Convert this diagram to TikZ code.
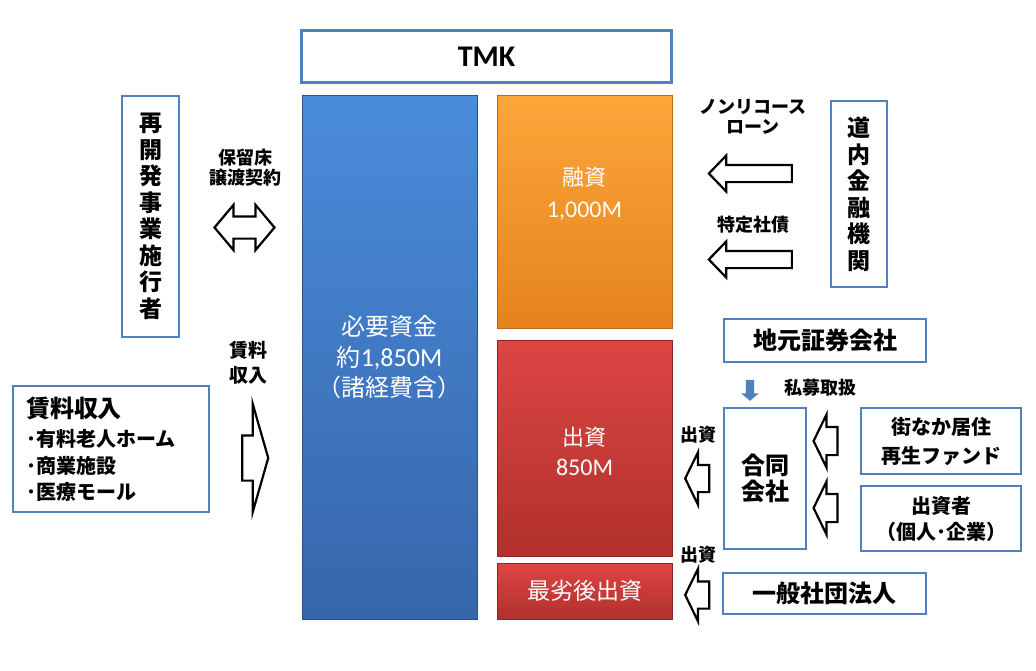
\documentclass[tikz,border=0pt]{standalone}
\usepackage{fontspec}
\setmainfont{Noto Sans CJK JP}
\newfontfamily\lat{Carlito}
\usetikzlibrary{shapes.arrows}
\definecolor{boxblue}{HTML}{4F81BD}
\definecolor{colblueT}{HTML}{4A8CDB}
\definecolor{colblueB}{HTML}{3666AA}
\definecolor{colorangeT}{HTML}{FDA63A}
\definecolor{colorangeB}{HTML}{E5831C}
\definecolor{colredT}{HTML}{DC4643}
\definecolor{colredB}{HTML}{B1302D}
\tikzset{
  bluebox/.style={draw=boxblue, line width=2.6pt, fill=white, inner sep=0pt, align=center},
  column/.style={inner sep=0pt, align=center, text=white, draw=#1B!80!black, line width=0.6pt,
     top color=#1T, bottom color=#1B},
  barrow/.style={single arrow, draw=black, line width=2.2pt, fill=white, inner xsep=0pt,
     single arrow head indent=0pt},
  lbl/.style={inner sep=0pt, align=center, font=\fontsize{18}{20}\selectfont\bfseries},
  vtext/.style={font=\fontsize{23}{26.5}\selectfont\bfseries},
  wtext/.style={font=\fontsize{24}{30.5}\selectfont},
}
\begin{document}
\begin{tikzpicture}[x=1pt,y=-1pt]
\useasboundingbox[fill=white] (0,0) rectangle (1036,670);

% TMK
\node[bluebox, minimum width=370pt, minimum height=52pt, font=\lat\fontsize{30}{32}\selectfont\bfseries] (tmk) at (486.5,56.5) {TMK};

% columns
\node[column=colblue, minimum width=175pt, minimum height=524pt] (need) at (389.5,357) {};
\node[wtext, text=white, align=center, inner sep=0pt] (needtxt) at (389.5,357.5)
  {必要資金\\約{\lat\fontsize{26}{30}\selectfont 1,850M}\\（諸経費含）};
\node[column=colorange, minimum width=175pt, minimum height=233pt] (loan) at (584.5,211.5) {};
\node[text=white, align=center, inner sep=0pt, font=\fontsize{22}{32}\selectfont] (loantxt) at (584.5,194)
  {融資\\{\lat\fontsize{24}{32}\selectfont 1,000M}};
\node[column=colred, minimum width=175pt, minimum height=216pt] (equity) at (584.5,448) {};
\node[text=white, align=center, inner sep=0pt, font=\fontsize{22}{30}\selectfont] (equitytxt) at (584.5,451)
  {出資\\{\lat\fontsize{24}{30}\selectfont 850M}};
\node[column=colred, minimum width=175pt, minimum height=56pt, font=\fontsize{23}{26}\selectfont] (sub) at (584.5,591) {最劣後出資};

% left side
\node[bluebox, minimum width=57pt, minimum height=241pt, vtext] (dev) at (150.5,216.5)
  {再\\開\\発\\事\\業\\施\\行\\者};
\node[lbl] (hoho) at (245,168) {保留床\\譲渡契約};
\node[double arrow, draw=black, line width=2.2pt, fill=white, inner xsep=0pt, inner ysep=10pt,
  minimum height=60pt, double arrow head extend=11.5pt,
  double arrow tip angle=100, double arrow head indent=0pt] (dbl) at (244.5,227.5) {};

\node[bluebox, minimum width=196pt, minimum height=126pt, align=left, text width=170pt,
  font=\fontsize{20}{26.5}\selectfont\bfseries] (rentbox) at (111,449)
  {{\fontsize{24}{26.5}\selectfont 賃料収入}\\[3pt]･有料老人ホーム\\･商業施設\\･医療モール};
\node[lbl, font=\fontsize{19}{25}\selectfont\bfseries] (rentlbl) at (248,363) {賃料\\収入};
\node[barrow, minimum height=26pt, inner ysep=21.5pt, single arrow head extend=31.5pt,
  single arrow tip angle=148] (rentarrow) at (252,458) {};

% right side top
\node[bluebox, minimum width=56pt, minimum height=186pt, vtext] (bank) at (859,194)
  {道\\内\\金\\融\\機\\関};
\node[lbl] (nrl) at (753,117) {ノンリコース\\ローン};
\node[barrow, minimum height=83pt, inner ysep=7.5pt, single arrow head extend=9.5pt,
  single arrow tip angle=92, shape border rotate=180] (a1) at (754.5,173.5) {};
\node[lbl] (tb) at (753,225) {特定社債};
\node[barrow, minimum height=83pt, inner ysep=7.5pt, single arrow head extend=9.5pt,
  single arrow tip angle=92, shape border rotate=180] (a2) at (754.5,259.5) {};

% right side bottom
\node[bluebox, minimum width=202pt, minimum height=43pt, font=\fontsize{24}{26}\selectfont\bfseries] (sec) at (825,340.5) {地元証券会社};
\node[single arrow, fill=boxblue, draw=none, inner xsep=4pt, inner ysep=0pt, minimum height=21pt,
  single arrow head extend=4.5pt, single arrow tip angle=100, shape border rotate=270] (pp) at (750,388.5) {};
\node[lbl] (pplbl) at (820,388) {私募取扱};
\node[bluebox, minimum width=82pt, minimum height=141pt, font=\fontsize{24}{26.5}\selectfont\bfseries] (godo) at (765,478.5) {合同\\会社};
\node[bluebox, minimum width=160pt, minimum height=66pt, font=\fontsize{20}{29}\selectfont\bfseries] (fund) at (941,441) {街なか居住\\再生ファンド};
\node[bluebox, minimum width=160pt, minimum height=65pt, font=\fontsize{20}{26}\selectfont\bfseries] (inv) at (941,518.5) {出資者\\（個人･企業）};
\node[bluebox, minimum width=203pt, minimum height=41pt, font=\fontsize{24}{26}\selectfont\bfseries] (ippan) at (824.5,593.5) {一般社団法人};

\node[barrow, minimum height=24pt, inner ysep=13pt, single arrow head extend=12.5pt,
  single arrow tip angle=128, shape border rotate=180] (f1) at (829,441) {};
\node[barrow, minimum height=24pt, inner ysep=13pt, single arrow head extend=12.5pt,
  single arrow tip angle=128, shape border rotate=180] (f2) at (829,508) {};
\node[lbl] (s1) at (698,435) {出資};
\node[barrow, minimum height=24pt, inner ysep=12.5pt, single arrow head extend=12.5pt,
  single arrow tip angle=128, shape border rotate=180] (e1) at (700.5,478.5) {};
\node[lbl] (s2) at (698,555) {出資};
\node[barrow, minimum height=24pt, inner ysep=12.5pt, single arrow head extend=12.5pt,
  single arrow tip angle=128, shape border rotate=180] (e2) at (700.5,595) {};
\end{tikzpicture}
\end{document}
